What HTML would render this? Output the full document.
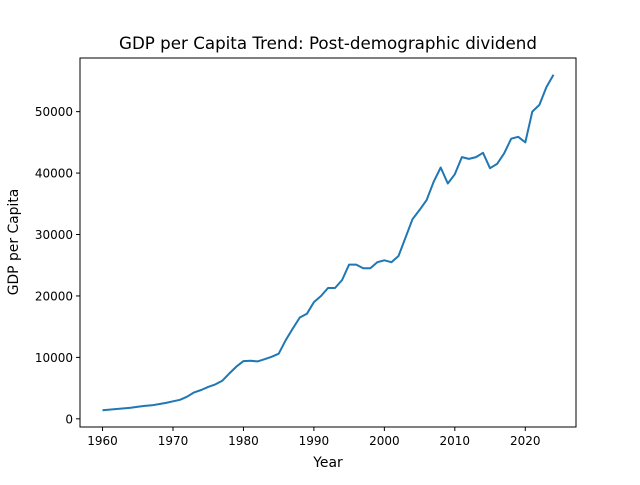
<!DOCTYPE html>
<html><head><meta charset="utf-8"><style>
body{margin:0;background:#fff}
svg text{font-family:"DejaVu Sans","Liberation Sans",sans-serif;fill:#000}
</style></head><body>
<svg id="chart" width="640" height="480" xmlns="http://www.w3.org/2000/svg">
<rect width="640" height="480" fill="#fff"/>
<text x="328" y="49" font-size="16.7" text-anchor="middle">GDP per Capita Trend: Post-demographic dividend</text>
<g id="xt"></g><g id="yt"></g>
<path id="line" fill="none" stroke="#1f77b4" stroke-width="2" stroke-linejoin="round"/>
<rect x="80" y="58" width="496" height="369" fill="none" stroke="#000" stroke-width="1"/>
<text x="328" y="467" font-size="13.9" text-anchor="middle">Year</text>
<text transform="translate(18,242) rotate(-90)" font-size="13.9" text-anchor="middle">GDP per Capita</text>
</svg>
<script>
const years=[];for(let y=1960;y<=2024;y++)years.push(y);
const gdp=[1400,1500,1600,1700,1800,1950,2100,2200,2400,2600,2850,3100,3600,4300,4700,5200,5600,6200,7400,8500,9400,9450,9350,9700,10100,10600,12800,14700,16500,17100,19000,20000,21300,21300,22600,25100,25100,24500,24500,25500,25800,25500,26500,29500,32500,34000,35600,38600,40900,38300,39800,42600,42300,42600,43300,40800,41500,43200,45600,45900,45000,50000,51100,54000,56000];
const xTicks=[1960,1970,1980,1990,2000,2010,2020];
const yTicks=[0,10000,20000,30000,40000,50000];
const L=80,R=576,T=58,B=427;
const xmin=1956.8,xmax=2027.2,ymin=-1330,ymax=58730;
const sx=v=>L+(v-xmin)/(xmax-xmin)*(R-L);
const sy=v=>B-(v-ymin)/(ymax-ymin)*(B-T);
const NS="http://www.w3.org/2000/svg";
document.getElementById('line').setAttribute('d',gdp.map((v,i)=>(i?'L':'M')+sx(years[i]).toFixed(1)+','+sy(v).toFixed(1)).join(''));
const xt=document.getElementById('xt'),yt=document.getElementById('yt');
xTicks.forEach(t=>{const x=sx(t);
const l=document.createElementNS(NS,'line');l.setAttribute('x1',x);l.setAttribute('x2',x);l.setAttribute('y1',B);l.setAttribute('y2',B+4);l.setAttribute('stroke','#000');


xt.appendChild(l);
const s=document.createElementNS(NS,'text');s.setAttribute('x',x);s.setAttribute('y',B+18);s.setAttribute('font-size','12');s.setAttribute('text-anchor','middle');s.textContent=t;


xt.appendChild(s);});
yTicks.forEach(t=>{const y=sy(t);
const l=document.createElementNS(NS,'line');l.setAttribute('x1',L-4);l.setAttribute('x2',L);l.setAttribute('y1',y);l.setAttribute('y2',y);l.setAttribute('stroke','#000');


yt.appendChild(l);
const s=document.createElementNS(NS,'text');s.setAttribute('x',L-7);s.setAttribute('y',y+4.5);s.setAttribute('font-size','12');s.setAttribute('text-anchor','end');s.textContent=t;


yt.appendChild(s);});
</script>
</body></html>
